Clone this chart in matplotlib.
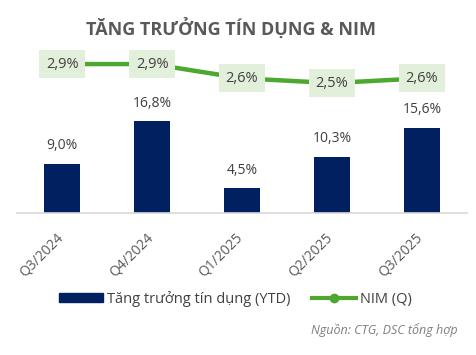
import matplotlib
matplotlib.use("Agg")
import matplotlib.pyplot as plt
from matplotlib.lines import Line2D
from matplotlib.patches import Patch
import matplotlib.transforms as mtransforms

plt.rcParams['font.family'] = ['Open Sans', 'DejaVu Sans']

categories = ["Q3/2024", "Q4/2024", "Q1/2025", "Q2/2025", "Q3/2025"]
credit_growth = [9.0, 16.8, 4.5, 10.3, 15.6]
nim = [2.9, 2.9, 2.6, 2.5, 2.6]

navy = "#002060"
green = "#4EA72E"
box = "#E2EFDA"
txt = "#404040"

fig = plt.figure(figsize=(4.76, 3.55), dpi=100)
ax = fig.add_axes([0.036, 0.40, 0.945, 0.473])
x = list(range(len(categories)))
ax.bar(x, credit_growth, width=0.4, color=navy, zorder=2)
ax.set_xlim(-0.5, len(categories) - 0.5)
ax.set_ylim(0, 30.8)
for xi, v in zip(x, credit_growth):
    ax.text(xi, v + 3.3, f"{v:.1f}%".replace(".", ","), ha="center", va="center",
            fontsize=10, color=txt)
for s in ["top", "right", "left"]:
    ax.spines[s].set_visible(False)
ax.spines["bottom"].set_color("#D9D9D9")
ax.spines["bottom"].set_linewidth(1.2)
ax.set_yticks([])
ax.set_xticks(x)
ax.set_xticklabels(categories, rotation=45, ha="right", va="center",
                   rotation_mode="anchor", fontsize=10, color="#595959")
ax.tick_params(axis="x", length=0, pad=16.5)
offset = mtransforms.ScaledTranslation(-1 / 72, 0, fig.dpi_scale_trans)
for lbl in ax.get_xticklabels():
    lbl.set_transform(lbl.get_transform() + offset)

ax2 = ax.twinx()
ax2.plot(x, nim, color=green, lw=3.2, marker="o", ms=6, zorder=3)
ax2.set_ylim(-0.237, 3.3)
ax2.set_yticks([])
for s in ["top", "right", "left", "bottom"]:
    ax2.spines[s].set_visible(False)
for xi, v in zip(x, nim):
    ax2.text(xi, v, f"{v:.1f}%".replace(".", ","), ha="center", va="center",
             fontsize=10.5, color=txt, zorder=4,
             bbox=dict(boxstyle="square,pad=0.45", fc=box, ec="none"))

fig.text(0.485, 0.918, "TĂNG TRƯỞNG TÍN DỤNG & NIM", ha="center", va="center",
         fontsize=13, fontweight="bold", color="#595959")

handles = [Patch(color=navy, label="Tăng trưởng tín dụng (YTD)"),
           Line2D([0], [0], color=green, lw=3, marker="o", ms=6, label="NIM (Q)")]
fig.legend(handles=handles, loc="center", bbox_to_anchor=(0.495, 0.158), ncol=2,
           frameon=False, fontsize=10.5, labelcolor=txt, handlelength=3.0,
           handleheight=0.6, handletextpad=0.3, columnspacing=1.5)

fig.text(0.962, 0.07, "Nguồn: CTG, DSC tổng hợp", ha="right", va="center",
         fontsize=9, style="italic", color="#7F7F7F")

fig.savefig("out.png", dpi=100)
